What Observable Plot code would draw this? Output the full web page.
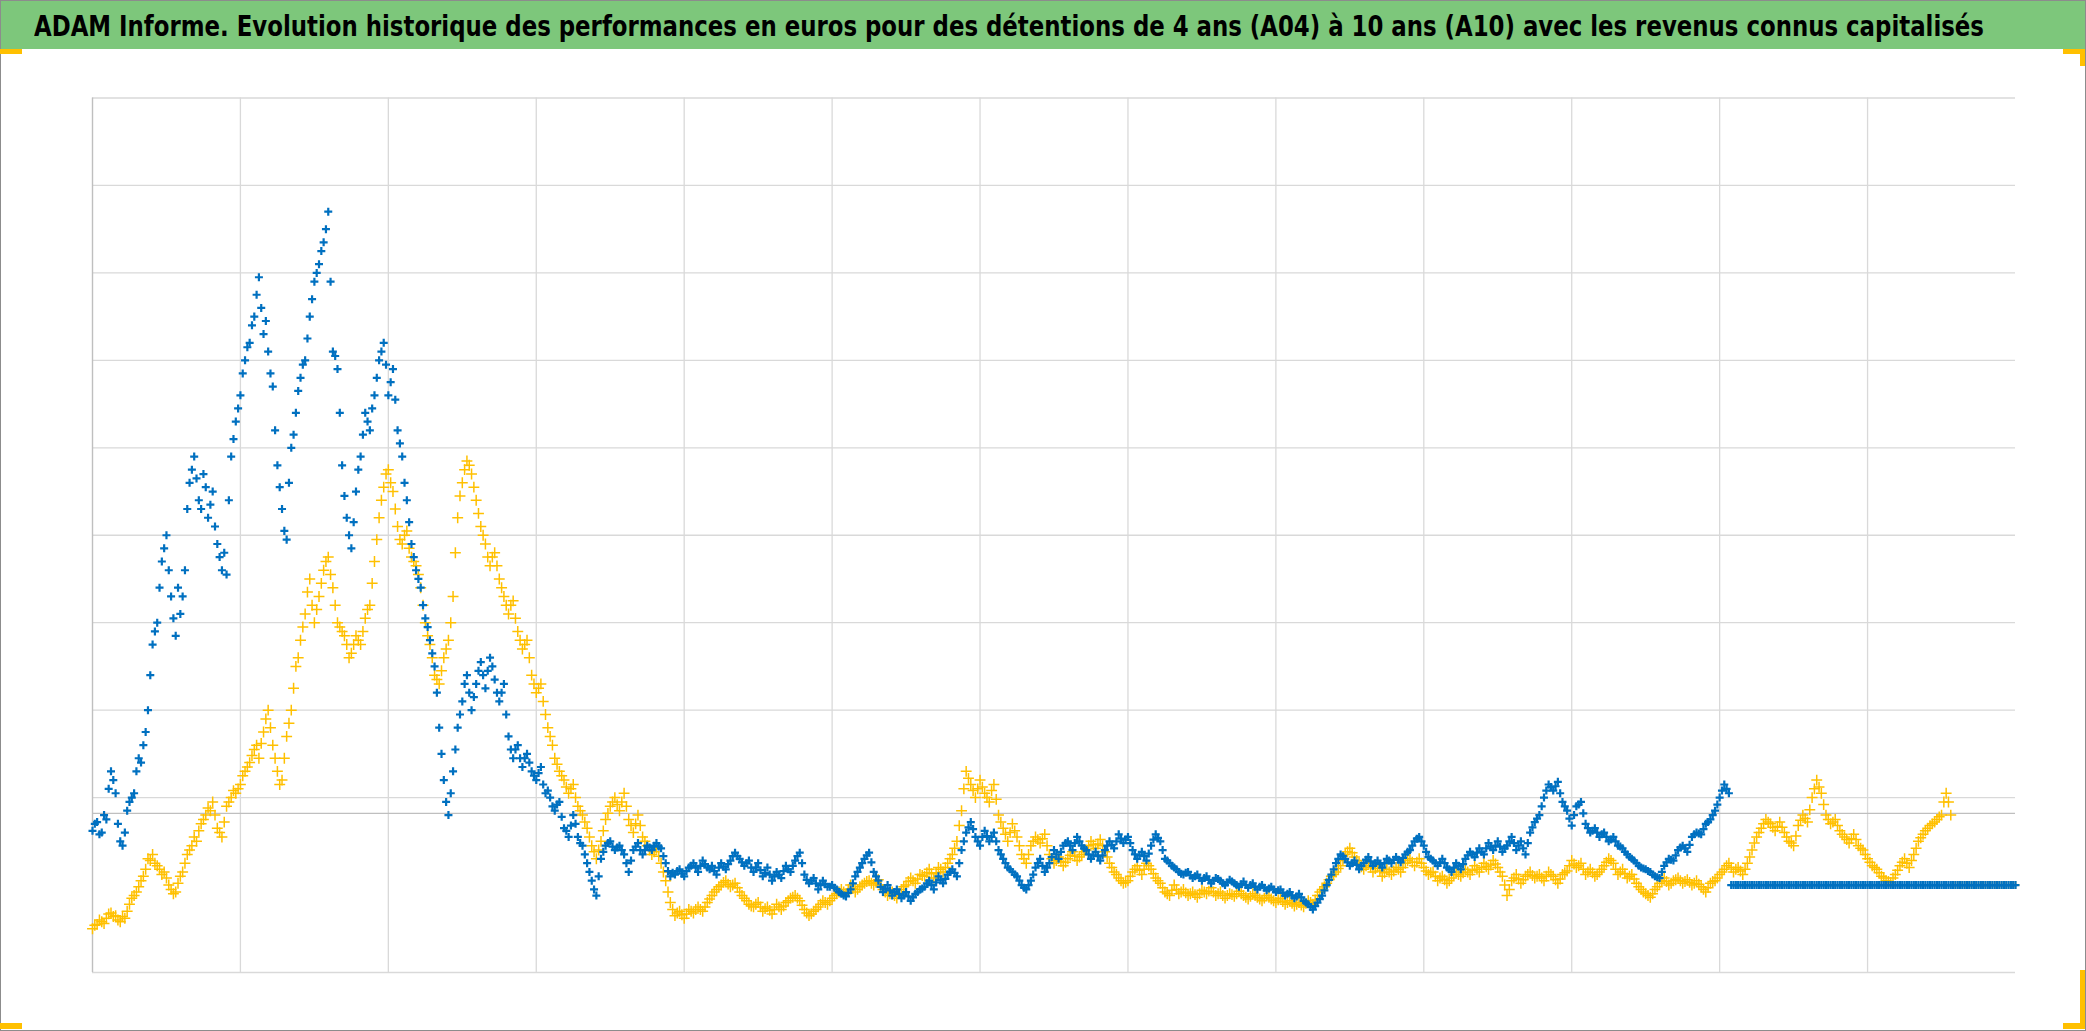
<!DOCTYPE html>
<html>
<head>
<meta charset="utf-8">
<script src="https://cdn.jsdelivr.net/npm/d3@7"></script>
<script src="https://cdn.jsdelivr.net/npm/@observablehq/plot@0.6"></script>
<style>
  html, body { margin: 0; padding: 0; background: #fff; }
  #wrap { position: relative; width: 2086px; height: 1031px; overflow: hidden; background: #fff; }
  #titlebar { position: absolute; left: 0; top: 0; width: 2086px; height: 49px; background: #7dc77b; }
  #title { position: absolute; left: 33.5px; top: 13px; white-space: nowrap; font-family: 'Liberation Sans Narrow', 'DejaVu Sans Condensed', 'DejaVu Sans', sans-serif; font-weight: bold; font-size: 28px; line-height: 1; color: #000; transform-origin: 0 0; }
  #chart { position: absolute; left: 0; top: 49px; }
  .frame { position: absolute; left: 0; top: 0; width: 2086px; height: 1031px; box-sizing: border-box; border: 1px solid #8c8c8c; pointer-events: none; }
  .hdl { position: absolute; background: #ffc000; }
</style>
</head>
<body>
<div id="wrap">
  <div id="titlebar"><span id="title">ADAM Informe. Evolution historique des performances en euros pour des détentions de 4 ans (A04) à 10 ans (A10) avec les revenus connus capitalisés</span></div>
  <div id="chart"></div>
  <div class="frame"></div>
  <div class="hdl" style="left:0;top:49px;width:22px;height:5px"></div>
  <div class="hdl" style="left:2063px;top:49px;width:22px;height:5px"></div>
  <div class="hdl" style="left:2080px;top:49px;width:5px;height:17px"></div>
  <div class="hdl" style="left:0;top:1023px;width:22px;height:6px"></div>
  <div class="hdl" style="left:2063px;top:1023px;width:22px;height:6px"></div>
  <div class="hdl" style="left:2080px;top:970px;width:5px;height:59px"></div>
</div>
<script>
// fit the title to the reference width
const titleEl = document.getElementById("title");
const titleWidth = 1950;
titleEl.style.transform = `scaleX(${titleWidth / titleEl.offsetWidth})`;

// time step between observations (years) and x-axis extent (years since first date)
const stepYears = 0.125;
const xDomain = [0, 52];
const yDomain = [-1, 9];
// vertical gridlines every 4 years, horizontal gridlines (units of the value axis)
const xGridTicks = [4, 8, 12, 16, 20, 24, 28, 32, 36, 40, 44, 48];
const yGridTicks = [-1, 1, 2, 3, 4, 5, 6, 7, 8, 9];
const xAxisCross = 0.82;
// last date with a computed A04 value (later entries are the empty zero rows)
const a04LastYear = 50.3;

// A10 — 10-year holding (blue), observations at t = i * stepYears
const a10Values = [
  0.62,0.72,0.60,0.75,1.30,1.05,0.50,0.60,0.95,1.05,1.45,1.60,2.00,2.75,3.00,3.70,4.00,3.30,2.85,3.10,3.60,4.60,4.90,4.40,4.70,4.20,4.50,3.90,3.60,3.55,4.90,5.30,
  5.60,6.00,6.20,6.50,6.95,6.30,6.10,5.70,4.80,4.30,3.95,5.00,5.40,5.80,6.00,6.50,6.90,7.10,7.35,7.70,6.10,5.90,4.80,4.20,3.85,4.50,4.90,5.40,5.20,5.60,6.00,6.20,
  5.60,5.90,5.20,4.90,4.40,3.90,3.60,3.40,3.05,2.80,2.50,1.80,1.20,0.80,1.30,1.80,2.10,2.40,2.00,2.30,2.55,2.25,2.60,2.35,2.10,2.30,1.70,1.45,1.60,1.35,1.50,1.30,
  1.20,1.35,1.05,1.00,0.85,0.95,0.65,0.55,0.80,0.55,0.45,0.25,0.05,-0.12,0.30,0.45,0.50,0.40,0.45,0.35,0.15,0.40,0.48,0.35,0.45,0.40,0.48,0.42,0.25,0.10,0.12,0.18,
  0.10,0.20,0.25,0.15,0.28,0.20,0.22,0.12,0.25,0.18,0.28,0.37,0.30,0.22,0.28,0.15,0.25,0.10,0.20,0.05,0.15,0.08,0.22,0.15,0.28,0.37,0.12,0.02,0.08,-0.05,0.05,-0.02,
  0.00,-0.05,-0.10,-0.13,-0.05,0.10,0.20,0.30,0.37,0.15,0.05,-0.08,0.00,-0.12,-0.05,-0.15,-0.08,-0.18,-0.10,-0.05,-0.02,0.05,-0.05,0.10,0.02,0.12,0.18,0.10,0.40,0.60,0.72,0.55,
  0.45,0.62,0.50,0.60,0.40,0.30,0.20,0.15,0.10,0.00,-0.05,0.05,0.20,0.30,0.15,0.25,0.40,0.30,0.45,0.50,0.40,0.55,0.45,0.40,0.30,0.38,0.28,0.40,0.50,0.42,0.58,0.48,
  0.55,0.40,0.30,0.38,0.28,0.45,0.58,0.50,0.30,0.25,0.20,0.15,0.12,0.15,0.08,0.12,0.05,0.10,0.02,0.08,0.05,0.00,0.06,0.02,-0.02,0.04,-0.03,0.02,-0.05,0.00,-0.06,-0.02,
  -0.08,-0.05,-0.12,-0.08,-0.15,-0.10,-0.18,-0.22,-0.28,-0.20,-0.12,0.00,0.12,0.25,0.35,0.30,0.22,0.28,0.18,0.25,0.32,0.22,0.28,0.20,0.30,0.25,0.32,0.26,0.35,0.40,0.50,0.55,
  0.45,0.32,0.28,0.22,0.30,0.20,0.15,0.25,0.18,0.30,0.38,0.32,0.42,0.35,0.48,0.40,0.50,0.38,0.45,0.55,0.40,0.50,0.35,0.60,0.72,0.80,1.00,1.15,1.08,1.18,0.95,0.85,
  0.68,0.90,0.95,0.70,0.60,0.65,0.55,0.60,0.50,0.55,0.45,0.42,0.35,0.30,0.25,0.20,0.18,0.15,0.10,0.08,0.22,0.30,0.28,0.40,0.45,0.38,0.55,0.60,0.58,0.70,0.75,0.85,
  1.00,1.15,1.05,0,0,0,0,0,0,0,0,0,0,0,0,0,0,0,0,0,0,0,0,0,0,0,0,0,0,0,0,0,
  0,0,0,0,0,0,0,0,0,0,0,0,0,0,0,0,0,0,0,0,0,0,0,0,0,0,0,0,0,0,0,0,
  0
];
// A10 — observations at t = (i + 0.5) * stepYears
const a10HalfValues = [
  0.70,0.58,0.80,1.10,1.20,0.70,0.45,0.85,1.00,1.30,1.40,1.75,2.40,2.90,3.40,3.85,3.60,3.05,3.40,3.30,4.30,4.75,4.65,4.30,4.55,4.35,4.10,3.75,3.80,4.40,5.10,5.45,
  5.85,6.15,6.40,6.75,6.60,6.45,5.85,5.20,4.55,4.05,4.60,5.15,5.65,5.95,6.25,6.70,7.00,7.25,7.50,6.90,6.05,5.40,4.45,4.00,4.15,4.75,5.15,5.30,5.45,5.80,6.10,5.95,
  5.75,5.55,5.05,4.60,4.15,3.75,3.50,3.20,2.95,2.65,2.20,1.50,0.95,1.05,1.55,1.95,2.30,2.20,2.15,2.45,2.40,2.45,2.50,2.20,2.20,1.95,1.55,1.55,1.45,1.45,1.40,1.25,
  1.28,1.15,1.08,0.90,0.92,0.78,0.62,0.68,0.70,0.48,0.35,0.15,-0.05,0.10,0.38,0.48,0.44,0.43,0.40,0.25,0.28,0.44,0.40,0.40,0.43,0.45,0.44,0.33,0.16,0.14,0.16,0.13,
  0.16,0.22,0.20,0.22,0.24,0.18,0.16,0.20,0.21,0.24,0.33,0.33,0.26,0.25,0.20,0.20,0.17,0.14,0.12,0.10,0.12,0.16,0.18,0.22,0.33,0.25,0.06,0.05,0.02,0.00,0.01,-0.02,
  -0.03,-0.08,-0.12,-0.09,0.02,0.15,0.25,0.34,0.26,0.10,-0.02,-0.04,-0.06,-0.08,-0.10,-0.12,-0.13,-0.14,-0.08,-0.04,0.02,0.00,0.03,0.06,0.07,0.15,0.14,0.25,0.50,0.66,0.64,0.50,
  0.55,0.56,0.55,0.50,0.35,0.25,0.18,0.12,0.05,-0.03,0.00,0.12,0.25,0.22,0.20,0.32,0.35,0.38,0.48,0.45,0.48,0.50,0.42,0.35,0.34,0.33,0.34,0.45,0.46,0.50,0.53,0.52,
  0.48,0.35,0.34,0.33,0.36,0.52,0.54,0.40,0.28,0.22,0.18,0.13,0.14,0.11,0.10,0.08,0.08,0.06,0.05,0.07,0.02,0.03,0.04,0.00,0.01,0.00,0.00,-0.02,-0.02,-0.03,-0.04,-0.05,
  -0.06,-0.09,-0.10,-0.12,-0.13,-0.14,-0.20,-0.25,-0.24,-0.16,-0.06,0.06,0.18,0.30,0.33,0.26,0.25,0.23,0.22,0.29,0.27,0.25,0.24,0.25,0.28,0.29,0.29,0.31,0.38,0.45,0.53,0.50,
  0.38,0.30,0.25,0.26,0.25,0.18,0.20,0.22,0.24,0.34,0.35,0.37,0.38,0.42,0.44,0.45,0.44,0.42,0.50,0.48,0.45,0.42,0.48,0.66,0.76,0.90,1.08,1.12,1.13,1.05,0.90,0.76,
  0.80,0.92,0.82,0.65,0.62,0.60,0.58,0.55,0.52,0.50,0.44,0.38,0.32,0.28,0.22,0.19,0.16,0.12,0.09,0.15,0.26,0.29,0.34,0.43,0.42,0.46,0.58,0.59,0.64,0.72,0.80,0.92,
  1.08,1.10,0,0,0,0,0,0,0,0,0,0,0,0,0,0,0,0,0,0,0,0,0,0,0,0,0,0,0,0,0,0,
  0,0,0,0,0,0,0,0,0,0,0,0,0,0,0,0,0,0,0,0,0,0,0,0,0,0,0,0,0,0,0,0
];

// A04 — 4-year holding (yellow), observations at t = i * stepYears
const a04Values = [
  -0.50,-0.45,-0.42,-0.38,-0.32,-0.35,-0.42,-0.38,-0.22,-0.12,-0.02,0.10,0.30,0.35,0.22,0.12,0.08,-0.05,-0.08,0.10,0.25,0.40,0.55,0.62,0.75,0.88,0.95,0.65,0.55,0.90,1.00,1.05,
  1.15,1.30,1.40,1.55,1.45,1.75,2.00,1.60,1.30,1.20,1.70,2.00,2.50,2.80,3.10,3.50,3.00,3.30,3.60,3.75,3.40,3.00,2.90,2.75,2.65,2.85,2.75,3.05,3.20,3.70,4.20,4.55,
  4.75,4.50,4.10,3.90,4.05,3.75,3.65,3.40,3.00,2.75,2.40,2.30,2.60,2.80,3.30,4.20,4.60,4.85,4.70,4.40,4.10,3.90,3.65,3.80,3.50,3.30,3.10,3.25,2.90,2.70,2.80,2.40,
  2.20,2.30,1.95,1.70,1.45,1.30,1.20,1.05,1.15,0.90,0.80,0.65,0.45,0.30,0.50,0.75,0.90,1.00,0.85,1.05,0.75,0.60,0.80,0.55,0.45,0.35,0.42,0.25,0.05,-0.20,-0.35,-0.30,
  -0.38,-0.28,-0.32,-0.25,-0.30,-0.20,-0.12,-0.05,0.00,0.05,-0.02,0.02,-0.08,-0.15,-0.22,-0.25,-0.20,-0.30,-0.25,-0.33,-0.22,-0.28,-0.20,-0.15,-0.12,-0.18,-0.28,-0.35,-0.30,-0.25,-0.18,-0.22,
  -0.15,-0.10,-0.05,-0.10,0.00,-0.08,-0.02,0.02,0.05,0.00,0.06,-0.05,-0.12,-0.08,-0.15,-0.05,0.00,0.08,0.02,0.12,0.10,0.18,0.08,0.20,0.15,0.25,0.35,0.50,0.85,1.30,1.15,1.00,
  1.20,1.05,0.95,1.15,0.80,0.65,0.50,0.70,0.55,0.35,0.25,0.45,0.55,0.48,0.58,0.35,0.25,0.32,0.22,0.30,0.38,0.28,0.35,0.40,0.50,0.42,0.52,0.38,0.25,0.15,0.08,0.02,
  0.05,0.15,0.22,0.12,0.25,0.18,0.08,0.02,-0.08,-0.12,0.00,-0.10,-0.05,-0.12,-0.08,-0.14,-0.06,-0.10,-0.03,-0.12,-0.08,-0.15,-0.10,-0.13,-0.07,-0.12,-0.16,-0.10,-0.14,-0.18,-0.12,-0.16,
  -0.20,-0.15,-0.22,-0.18,-0.24,-0.20,-0.25,-0.18,-0.22,-0.12,-0.05,0.02,0.10,0.15,0.22,0.35,0.42,0.32,0.25,0.18,0.25,0.15,0.22,0.10,0.18,0.12,0.20,0.15,0.25,0.30,0.22,0.30,
  0.20,0.12,0.15,0.05,0.10,0.02,0.08,0.15,0.10,0.18,0.12,0.22,0.15,0.25,0.18,0.28,0.20,0.10,-0.12,0.05,0.12,0.02,0.10,0.15,0.08,0.12,0.05,0.15,0.10,0.02,0.12,0.16,
  0.28,0.20,0.25,0.12,0.18,0.10,0.15,0.22,0.30,0.25,0.12,0.18,0.08,0.12,0.02,-0.05,-0.10,-0.14,-0.05,0.02,0.08,0.00,0.05,0.08,0.02,0.06,0.00,0.05,-0.02,-0.08,0.02,0.05,
  0.12,0.18,0.25,0.15,0.20,0.12,0.25,0.40,0.55,0.65,0.75,0.70,0.62,0.72,0.60,0.50,0.45,0.68,0.80,0.72,1.00,1.20,1.05,0.80,0.70,0.75,0.62,0.55,0.48,0.58,0.45,0.40,
  0.30,0.22,0.18,0.10,0.05,0.03,0.12,0.22,0.30,0.20,0.35,0.50,0.58,0.65,0.70,0.75,0.80,1.05,0.80,0,0,0,0,0,0,0,0,0,0,0,0,0,
  0
];
// A04 — observations at t = (i + 0.5) * stepYears
const a04HalfValues = [
  -0.46,-0.40,-0.44,-0.33,-0.36,-0.40,-0.36,-0.30,-0.15,-0.08,0.05,0.18,0.28,0.25,0.18,0.15,0.00,-0.10,0.02,0.15,0.35,0.45,0.50,0.70,0.80,0.85,0.80,0.60,0.72,0.95,1.08,1.10,
  1.25,1.35,1.48,1.60,1.62,1.90,1.80,1.45,1.15,1.45,1.85,2.25,2.60,2.95,3.35,3.20,3.15,3.45,3.70,3.55,3.20,2.95,2.85,2.60,2.75,2.80,2.90,3.15,3.45,3.95,4.40,4.70,
  4.60,4.30,3.95,4.00,3.85,3.70,3.55,3.20,2.85,2.60,2.35,2.45,2.70,3.00,3.80,4.45,4.75,4.80,4.55,4.25,4.00,3.75,3.75,3.65,3.40,3.20,3.20,3.05,2.80,2.75,2.60,2.30,
  2.25,2.10,1.80,1.60,1.38,1.25,1.12,1.10,1.00,0.85,0.72,0.55,0.38,0.40,0.62,0.82,0.95,0.92,0.95,0.90,0.68,0.70,0.68,0.50,0.40,0.38,0.33,0.15,-0.08,-0.28,-0.32,-0.34,
  -0.33,-0.30,-0.28,-0.28,-0.25,-0.16,-0.08,-0.02,0.03,0.01,0.00,-0.03,-0.12,-0.18,-0.24,-0.22,-0.25,-0.27,-0.29,-0.28,-0.25,-0.24,-0.18,-0.14,-0.15,-0.23,-0.32,-0.33,-0.28,-0.22,-0.20,-0.18,
  -0.12,-0.08,-0.08,-0.05,-0.04,-0.05,0.00,0.04,0.02,0.03,0.00,-0.08,-0.10,-0.12,-0.10,-0.02,0.04,0.05,0.07,0.11,0.14,0.13,0.14,0.18,0.20,0.30,0.42,0.68,1.10,1.22,1.08,1.10,
  1.12,1.00,1.08,0.98,0.72,0.58,0.60,0.62,0.45,0.30,0.35,0.50,0.52,0.53,0.45,0.30,0.28,0.27,0.26,0.34,0.33,0.32,0.38,0.45,0.46,0.47,0.45,0.32,0.20,0.12,0.05,0.03,
  0.10,0.18,0.17,0.18,0.22,0.13,0.05,-0.03,-0.10,-0.06,-0.05,-0.08,-0.09,-0.10,-0.11,-0.10,-0.08,-0.07,-0.08,-0.10,-0.12,-0.12,-0.11,-0.10,-0.10,-0.14,-0.13,-0.12,-0.16,-0.15,-0.14,-0.18,
  -0.17,-0.19,-0.20,-0.21,-0.22,-0.23,-0.21,-0.20,-0.17,-0.08,-0.02,0.06,0.12,0.19,0.28,0.38,0.37,0.28,0.21,0.22,0.20,0.19,0.16,0.14,0.15,0.16,0.18,0.20,0.28,0.26,0.26,0.25,
  0.16,0.14,0.10,0.08,0.06,0.05,0.12,0.12,0.14,0.15,0.17,0.18,0.20,0.21,0.23,0.24,0.15,0.00,-0.05,0.08,0.07,0.06,0.12,0.11,0.10,0.08,0.10,0.12,0.06,0.07,0.14,0.22,
  0.24,0.22,0.18,0.15,0.14,0.12,0.18,0.26,0.28,0.18,0.15,0.13,0.10,0.07,-0.02,-0.08,-0.12,-0.10,-0.02,0.05,0.04,0.02,0.06,0.05,0.04,0.03,0.02,0.01,-0.05,-0.03,0.04,0.08,
  0.15,0.22,0.20,0.18,0.16,0.18,0.32,0.48,0.60,0.70,0.72,0.66,0.67,0.66,0.55,0.48,0.56,0.74,0.76,0.86,1.10,1.12,0.92,0.75,0.72,0.68,0.58,0.52,0.53,0.52,0.42,0.35,
  0.26,0.20,0.14,0.08,0.04,0.08,0.17,0.26,0.25,0.28,0.42,0.54,0.62,0.68,0.72,0.78,0.95,0.95,0,0,0,0,0,0,0,0,0,0,0,0,0,0
];

const toRows = (vals, offset) => vals.map((v, i) => ({t: (i + offset) * stepYears, v}));
const a10 = toRows(a10Values, 0).concat(toRows(a10HalfValues, 0.5));
const a04 = toRows(a04Values, 0).concat(toRows(a04HalfValues, 0.5));
const a04Computed = a04.filter((d) => d.t <= a04LastYear);
const a04Empty = a04.filter((d) => d.t > a04LastYear);

const chart = Plot.plot({
  width: 2086,
  height: 982,
  marginTop: 48.5,
  marginBottom: 59,
  marginLeft: 92,
  marginRight: 71,
  x: {domain: xDomain, axis: null},
  y: {domain: yDomain, axis: null},
  style: {background: "transparent", overflow: "visible"},
  marks: [
    Plot.gridX(xGridTicks, {stroke: "#d9d9d9", strokeOpacity: 1, strokeWidth: 1.3}),
    Plot.gridY(yGridTicks, {stroke: "#d9d9d9", strokeOpacity: 1, strokeWidth: 1.3}),
    Plot.ruleX([xDomain[0]], {stroke: "#bfbfbf", strokeWidth: 1.4}),
    Plot.ruleY([xAxisCross], {stroke: "#bfbfbf", strokeWidth: 1.4}),
    Plot.dot(a04Empty, {x: "t", y: "v", symbol: "plus", r: 2.7, stroke: "#ffc000", strokeWidth: 1.5}),
    Plot.dot(a04Computed, {x: "t", y: "v", symbol: "plus", r: 3.6, stroke: "#ffc000", strokeWidth: 1.5}),
    Plot.dot(a10, {x: "t", y: "v", symbol: "plus", r: 2.7, stroke: "#0070c0", strokeWidth: 2.2})
  ]
});
document.getElementById("chart").appendChild(chart);
</script>
</body>
</html>
